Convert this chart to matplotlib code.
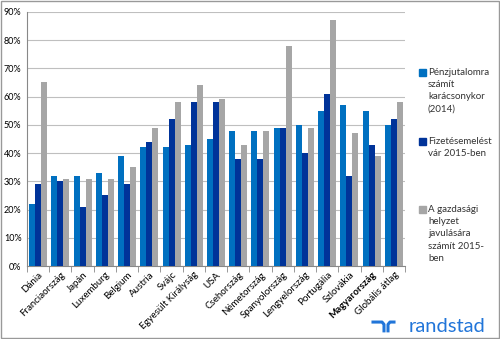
import matplotlib.pyplot as plt
import numpy as np
from matplotlib.lines import Line2D
from matplotlib.patches import Rectangle

# data
countries = ['Dánia', 'Franciaország', 'Japán', 'Luxemburg', 'Belgium', 'Austria',
             'Svájc', 'Egyesült Királyság', 'USA', 'Csehország', 'Németország',
             'Spanyolország', 'Lengyelország', 'Portugália', 'Szlovákia',
             'Magyarország', 'Globális átlag']
bonus = [22, 32, 32, 33, 39, 42, 42, 43, 45, 48, 48, 49, 50, 55, 57, 55, 50]
raise_2015 = [29, 30, 21, 25, 29, 44, 52, 58, 58, 38, 38, 49, 40, 61, 32, 43, 52]
economy = [65, 31, 31, 31, 35, 49, 58, 64, 59, 43, 48, 78, 49, 87, 47, 39, 58]
labels = ['Pénzjutalomra\nszámít\nkarácsonykor\n(2014)',
          'Fizetésemelést\nvár 2015-ben',
          'A gazdasági\nhelyzet\njavulására\nszámít 2015-\nben']
colors = ['#0070C0', '#003399', '#A6A6A6']

plt.rcParams['font.family'] = ['Lato', 'DejaVu Sans']

fig = plt.figure(figsize=(5, 3.39), dpi=100)
ax = fig.add_axes([0.054, 0.215, 0.756, 0.75])

x = np.arange(len(countries))
w = 0.27
for i, vals in enumerate([bonus, raise_2015, economy]):
    ax.bar(x + (i - 1) * w, vals, w, color=colors[i], label=labels[i], zorder=3)

ax.set_ylim(0, 90)
ax.set_yticks(range(0, 91, 10))
ax.set_yticklabels([str(v) + '%' for v in range(0, 91, 10)], fontsize=6.5)
ax.yaxis.grid(True, color='#BFBFBF', linewidth=0.8, zorder=0)
ax.set_xlim(-0.5, len(countries) - 0.5)
ax.set_xticks(x)
ax.set_xticklabels(countries, rotation=45, ha='right', rotation_mode='anchor', fontsize=7)
ax.get_xticklabels()[countries.index('Magyarország')].set_fontweight('bold')
ax.tick_params(axis='x', length=0, pad=3)
ax.tick_params(axis='y', length=0, pad=4)
ax.set_xticks(np.arange(-0.5, len(countries), 1), minor=True)
ax.tick_params(axis='x', which='minor', length=4, color='#888888')
for s in ['top', 'right']:
    ax.spines[s].set_visible(False)
ax.spines['left'].set_color('#888888')
ax.spines['bottom'].set_color('#888888')

# legend, placed by hand to keep Excel-like spacing
leg_y = [0.788, 0.584, 0.383]
for i in range(3):
    fig.add_artist(Rectangle((0.838, leg_y[i] - 0.012), 0.014, 0.02,
                             transform=fig.transFigure, color=colors[i]))
    fig.text(0.856, leg_y[i] + 0.012, labels[i], fontsize=7, va='top',
             linespacing=1.45, color='#333333')

# randstad logo
logo = '#2175D9'
fig.add_artist(Line2D([0.746, 0.764, 0.768, 0.768], [0.05, 0.05, 0.043, 0.024],
                      transform=fig.transFigure, color=logo, lw=2.2,
                      solid_joinstyle='round'))
fig.add_artist(Line2D([0.776, 0.776, 0.78, 0.788], [0.024, 0.043, 0.05, 0.05],
                      transform=fig.transFigure, color=logo, lw=2.2,
                      solid_joinstyle='round'))
fig.text(0.818, 0.021, 'randstad', fontsize=14.5, color=logo)

fig.add_artist(Rectangle((0.002, 0.003), 0.995, 0.994, transform=fig.transFigure,
                         fill=False, edgecolor='#999999', lw=1))

fig.savefig('out.png', dpi=100)
